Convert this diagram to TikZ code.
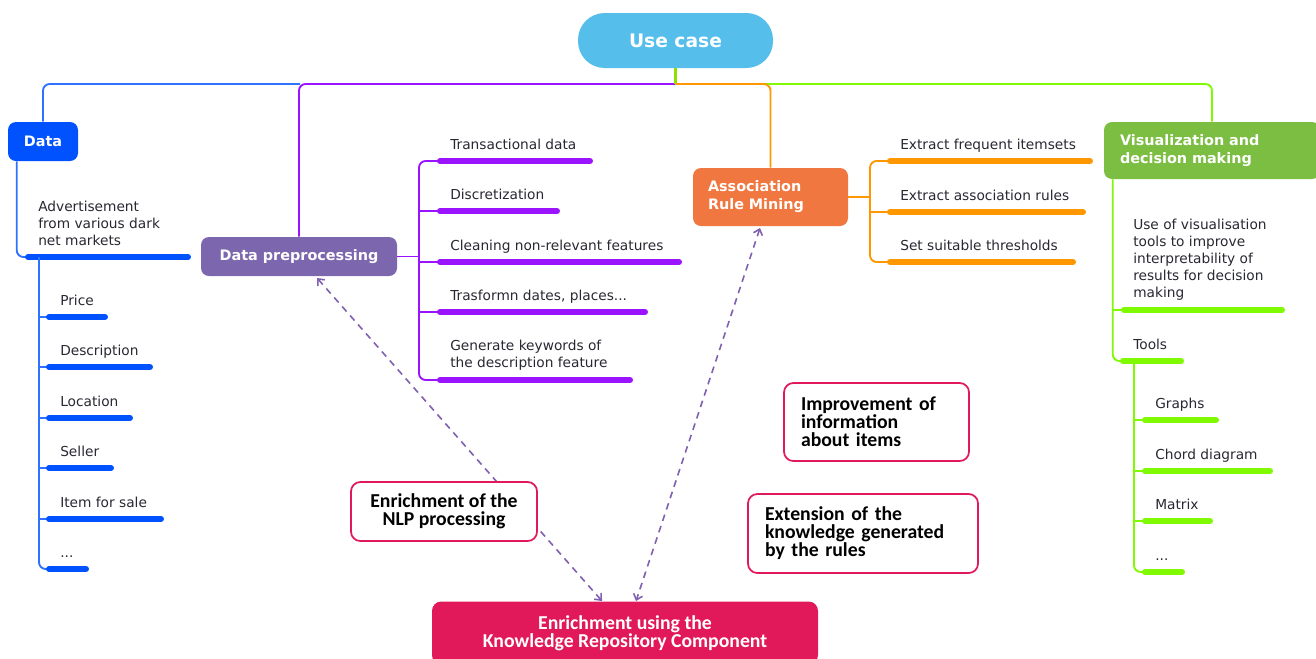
\documentclass[tikz,border=0pt]{standalone}
\usepackage{fontspec}
\setmainfont{DejaVu Sans}
\newfontfamily\carl{Carlito}
\usetikzlibrary{arrows.meta,calc}
\definecolor{ucblue}{RGB}{85,190,235}
\definecolor{datablue}{RGB}{0,82,255}
\definecolor{lineblue}{RGB}{45,115,255}
\definecolor{purp}{RGB}{155,20,255}
\definecolor{dpbox}{RGB}{124,103,174}
\definecolor{armbox}{RGB}{240,120,64}
\definecolor{orng}{RGB}{255,152,0}
\definecolor{visbox}{RGB}{124,190,66}
\definecolor{grn}{RGB}{128,250,0}
\definecolor{hubgrn}{RGB}{140,225,0}
\definecolor{crim}{RGB}{225,25,90}
\definecolor{dashc}{RGB}{128,96,176}
\definecolor{txt}{RGB}{40,40,50}
\tikzset{
 box/.style={rounded corners=6pt, inner sep=0pt, text=white, font=\fontsize{10.8}{13.5}\selectfont\bfseries},
 note/.style={draw=crim, line width=1.3pt, fill=white, rounded corners=7pt, inner sep=0pt, text=black, font=\carl\fontsize{14.8}{13.5}\selectfont\bfseries},
 lbl/.style={anchor=base west, inner sep=0pt, text=txt, font=\fontsize{10.3}{12.75}\selectfont, align=left},
 mlbl/.style={lbl, anchor=north west},
 trunk/.style={line width=1.4pt, rounded corners=5pt},
 bar/.style={line width=4.5pt, line cap=round},
 dasharrow/.style={dashc, line width=1.2pt, dash pattern=on 5pt off 4pt, {Straight Barb[length=4pt,width=7pt]}-{Straight Barb[length=4pt,width=7pt]}},
}
\begin{document}
\begin{tikzpicture}[x=0.75pt,y=-0.75pt]
\useasboundingbox (0,0) rectangle (1316,658);

% main nodes
\node[box, fill=ucblue, rounded corners=20pt, minimum width=146.25pt, minimum height=41.25pt, font=\fontsize{14}{16}\selectfont\bfseries] (uc) at (675.5,40.5) {Use case};
\node[box, fill=datablue, minimum width=52.5pt, minimum height=29.25pt] (data) at (43,141.5) {Data};
\node[box, fill=dpbox, minimum width=147pt, minimum height=29.25pt] (dp) at (299,256.5) {Data preprocessing};
\node[box, fill=armbox, inner xsep=11.25pt, text width=93.75pt, minimum height=43.5pt, align=left] (arm) at (770.5,197) {Association\\Rule Mining};
\node[box, fill=visbox, inner xsep=12pt, text width=138pt, minimum height=42.75pt, align=left] (vis) at (1212,150.5) {Visualization and\\decision making};

% top connectors
\coordinate (hub) at (675.5,84);
\draw[lineblue, trunk] (data.north) |- (300,84);
\draw[purp, trunk] (hub) -| (dp.north);
\draw[grn, trunk] (hub) -| (vis.north);
\draw[hubgrn, line width=1.8pt] (uc.south) -- (hub);
\draw[orng, trunk] (hub) -| (arm.north);

% Data branch
\draw[lineblue, trunk] ($(data.south west)+(9,0)$) |- (30,257);
\draw[datablue, bar] (28,257) -- (188,257);
\node[mlbl] (adv) at (38,201) {Advertisement\\from various dark\\net markets};
\draw[lineblue, trunk] (39,257) |- (49,569);
\foreach \y in {317,367,418,468,519} \draw[lineblue, line width=1.4pt] (39,\y) -- (49,\y);
\draw[datablue, bar] (49,317) -- (105,317);
\draw[datablue, bar] (49,367) -- (150,367);
\draw[datablue, bar] (49,418) -- (130,418);
\draw[datablue, bar] (49,468) -- (111,468);
\draw[datablue, bar] (49,519) -- (161,519);
\draw[datablue, bar] (49,569) -- (86,569);
\node[lbl] (price) at (60,305) {Price};
\node[lbl] (desc) at (60,355) {Description};
\node[lbl] (loc) at (60,406) {Location};
\node[lbl] (sell) at (60,456) {Seller};
\node[lbl] (item) at (60,507) {Item for sale};
\node[lbl] (ddots) at (60,557) {...};

% Data preprocessing branch
\draw[purp, line width=1.4pt] (dp.east) -- (419,256.5);
\draw[purp, trunk] (440,161) -| (419,380) -- (440,380);
\foreach \y in {211,262,312} \draw[purp, line width=1.4pt] (419,\y) -- (440,\y);
\draw[purp, bar] (440,161) -- (590,161);
\draw[purp, bar] (440,211) -- (557,211);
\draw[purp, bar] (440,262) -- (679,262);
\draw[purp, bar] (440,312) -- (645,312);
\draw[purp, bar] (440,380) -- (630,380);
\node[lbl] (trans) at (450,149) {Transactional data};
\node[lbl] (disc) at (450,199) {Discretization};
\node[lbl] (clean) at (450,250) {Cleaning non-relevant features};
\node[lbl] (trf) at (450,300) {Trasformn dates, places...};
\node[mlbl] (gen) at (450,340) {Generate keywords of\\the description feature};

% ARM branch
\draw[orng, line width=1.4pt] (arm.east) -- (870,197);
\draw[orng, trunk] (890,161) -| (870,262) -- (890,262);
\draw[orng, line width=1.4pt] (870,212) -- (890,212);
\draw[orng, bar] (890,161) -- (1090,161);
\draw[orng, bar] (890,212) -- (1083,212);
\draw[orng, bar] (890,262) -- (1073,262);
\node[lbl] (efi) at (900,149) {Extract frequent itemsets};
\node[lbl] (ear) at (900,200) {Extract association rules};
\node[lbl] (sst) at (900,250) {Set suitable thresholds};

% Visualization branch
\draw[grn, trunk] ($(vis.south west)+(9,0)$) |- (1124,361);
\draw[grn, line width=1.4pt] (1113,310) -- (1124,310);
\draw[grn, bar] (1124,310) -- (1282,310);
\draw[grn, bar] (1123,361) -- (1181,361);
\node[mlbl] (use) at (1133,219) {Use of visualisation\\tools to improve\\interpretability of\\results for decision\\making};
\node[lbl] (tools) at (1133,349) {Tools};
\draw[grn, trunk] (1134,361) |- (1146,572);
\foreach \y in {420,471,521} \draw[grn, line width=1.4pt] (1134,\y) -- (1145,\y);
\draw[grn, bar] (1145,420) -- (1216,420);
\draw[grn, bar] (1145,471) -- (1270,471);
\draw[grn, bar] (1145,521) -- (1210,521);
\draw[grn, bar] (1145,572) -- (1182,572);
\node[lbl] (graphs) at (1155,408) {Graphs};
\node[lbl] (chord) at (1155,459) {Chord diagram};
\node[lbl] (matrix) at (1155,509) {Matrix};
\node[lbl] (tdots) at (1155,560) {...};

% knowledge repository
\node[box, fill=crim, rounded corners=7pt, minimum width=289.5pt, minimum height=47.25pt, align=center, font=\carl\fontsize{14.8}{13.5}\selectfont\bfseries] (kr) at (625,633) {Enrichment using the\\Knowledge Repository Component};

% dashed arrows
\coordinate (dpE) at (317,278);
\coordinate (krA) at (602,601);
\coordinate (armE) at (760,228);
\coordinate (krB) at (636,601);
\draw[dasharrow] (dpE) -- (krA);
\draw[dasharrow] (armE) -- (krB);

% notes
\node[note, minimum width=139.5pt, minimum height=44.25pt, align=center] (nlp) at (444,511.5) {Enrichment of the\\NLP processing};
\node[note, inner xsep=12.75pt, text width=113.25pt, minimum height=58.5pt, align=left] (impr) at (876.5,422) {Improvement of\\information\\about items};
\node[note, inner xsep=12.75pt, text width=147pt, minimum height=59.25pt, align=left] (ext) at (863,533.5) {Extension of the\\knowledge generated\\by the rules};
\end{tikzpicture}
\end{document}
